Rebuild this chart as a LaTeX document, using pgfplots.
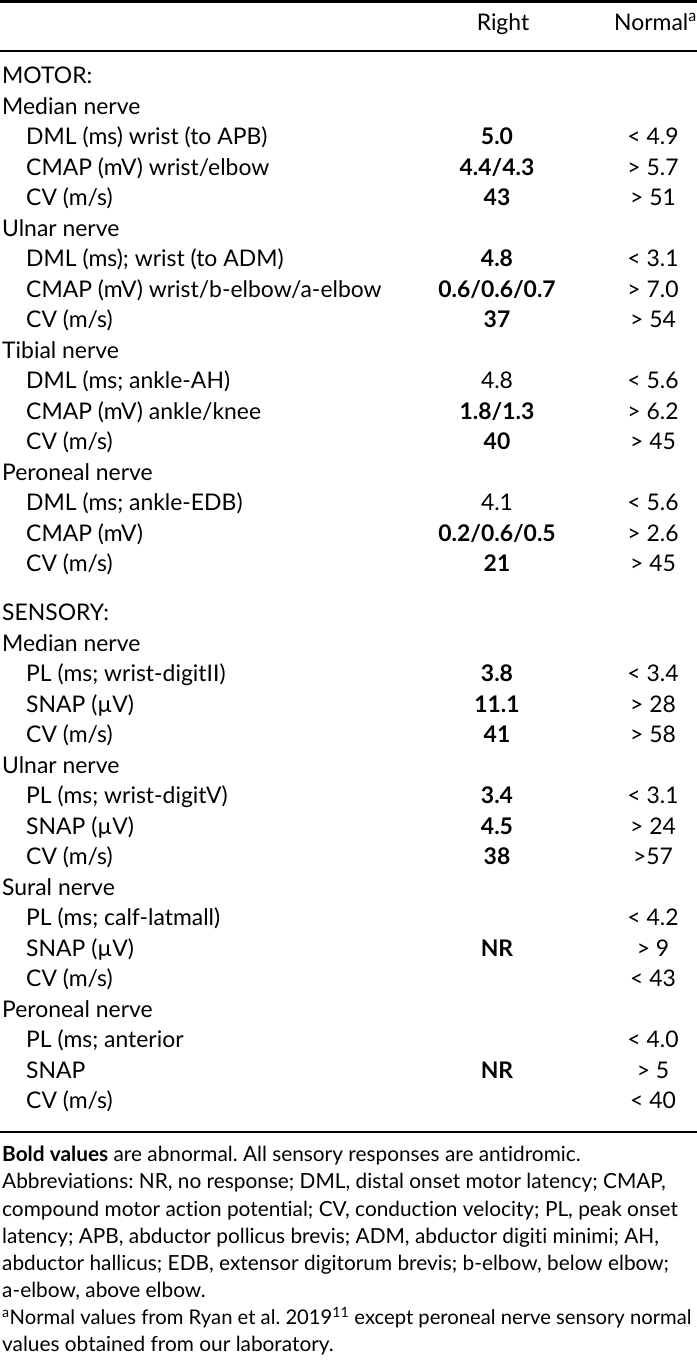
\documentclass[border=0pt]{standalone}
\usepackage{fontspec}
\setmainfont{Lato}[Ligatures={NoCommon,NoRare}]
\usepackage{pgfplots}
\usepackage{pgfplotstable}
\pgfplotsset{compat=1.18}
\frenchspacing

\newcommand\tabfont{\fontsize{23}{28}\selectfont}
\newcommand\notefont{\fontsize{20.9}{25}\selectfont}
% a semicolon that pgfplots' point lists do not see
\protected\def\sm{;}

% y = row centre (px from top), x = left edge of the label
% rb = bold value, rn = plain value, nv = normal range
\pgfplotstableread[col sep=comma]{
y,x,label,rb,rn,nv
80,2,MOTOR:,,,
110.5,2,Median nerve,,,
141,26,DML (ms) wrist (to APB),5.0,,< 4.9
171.5,26,CMAP (mV) wrist/elbow,4.4/4.3,,> 5.7
202,26,CV (m/s),43,,> 51
232.5,2,Ulnar nerve,,,
263,26,DML (ms)\sm{} wrist (to ADM),4.8,,< 3.1
293.5,26,CMAP (mV) wrist/b-elbow/a-elbow,0.6/0.6/0.7,,> 7.0
324,26,CV (m/s),37,,> 54
354.5,2,Tibial nerve,,,
385,26,DML (ms\sm{} ankle-AH),,4.8,< 5.6
415.5,26,CMAP (mV) ankle/knee,1.8/1.3,,> 6.2
446,26,CV (m/s),40,,> 45
476.5,2,Peroneal nerve,,,
507,26,DML (ms\sm{} ankle-EDB),,4.1,< 5.6
537.5,26,CMAP (mV),0.2/0.6/0.5,,> 2.6
568,26,CV (m/s),21,,> 45
617,2,SENSORY:,,,
647.5,2,Median nerve,,,
678,26,PL (ms\sm{} wrist-digitII),3.8,,< 3.4
708.5,26,SNAP (µV),11.1,,> 28
739,26,CV (m/s),41,,> 58
769.5,2,Ulnar nerve,,,
800,26,PL (ms\sm{} wrist-digitV),3.4,,< 3.1
830.5,26,SNAP (µV),4.5,,> 24
861,26,CV (m/s),38,,>57
891.5,2,Sural nerve,,,
922,26,PL (ms\sm{} calf-latmall),,,< 4.2
952.5,26,SNAP (µV),NR,,> 9
983,26,CV (m/s),,,< 43
1013.5,2,Peroneal nerve,,,
1044,26,PL (ms\sm{} anterior,,,< 4.0
1074.5,26,SNAP,NR,,> 5
1105,26,CV (m/s),,,< 40
}\rows

\begin{document}
\begin{tikzpicture}
\begin{axis}[name=ax,
  width=697bp, height=1361bp, scale only axis,
  xmin=0, xmax=697, ymin=0, ymax=1361, y dir=reverse,
  hide axis, clip=false,
  every node near coord/.append style={inner sep=0pt, yshift=-0.36em, font=\tabfont},
]
% rules
\addplot[black, line width=2.6bp] coordinates {(0,1.5) (697,1.5)};
\addplot[black, line width=1.6bp] coordinates {(0,51) (697,51)};
\addplot[black, line width=2bp] coordinates {(0,1132) (697,1132)};

% row labels
\addplot[draw=none, nodes near coords, point meta=explicit symbolic,
  nodes near coords align={center},
  every node near coord/.append style={anchor=base west}]
  table[x=x, y=y, meta=label] {\rows};
% Right column
\addplot[draw=none, nodes near coords, point meta=explicit symbolic,
  nodes near coords align={center},
  every node near coord/.append style={anchor=base, font=\tabfont\bfseries}]
  table[x expr=497, y=y, meta=rb] {\rows};
\addplot[draw=none, nodes near coords, point meta=explicit symbolic,
  nodes near coords align={center},
  every node near coord/.append style={anchor=base}]
  table[x expr=497, y=y, meta=rn] {\rows};
% Normal column
\addplot[draw=none, nodes near coords, point meta=explicit symbolic,
  nodes near coords align={center},
  every node near coord/.append style={anchor=base}]
  table[x expr=653, y=y, meta=nv] {\rows};

% header
\node[anchor=base, inner sep=0pt, font=\tabfont, yshift=-0.36em] at (axis cs:503,27) {Right};
\node[anchor=base east, inner sep=0pt, font=\tabfont, yshift=-0.36em] at (axis cs:697,27) {Normal\textsuperscript{a}};

% notes
\begin{scope}[every node/.style={anchor=base west, inner sep=0pt, font=\notefont, yshift=-0.36em}]
\node at (axis cs:2,1158) {\textbf{Bold values} are abnormal. All sensory responses are antidromic.};
\node at (axis cs:2,1185) {Abbreviations: NR, no response; DML, distal onset motor latency; CMAP,};
\node at (axis cs:2,1212.5) {compound motor action potential; CV, conduction velocity; PL, peak onset};
\node at (axis cs:2,1239.5) {latency; APB, abductor pollicus brevis; ADM, abductor digiti minimi; AH,};
\node at (axis cs:2,1267) {abductor hallicus; EDB, extensor digitorum brevis; b-elbow, below elbow;};
\node at (axis cs:2,1294) {a-elbow, above elbow.};
\node[font=\fontsize{20.3}{24}\selectfont] at (axis cs:2,1321) {\textsuperscript{a}Normal values from Ryan et al.\ 2019\textsuperscript{11} except peroneal nerve sensory normal};
\node at (axis cs:2,1348) {values obtained from our laboratory.};
\end{scope}
\end{axis}
\pgfresetboundingbox
\path (ax.south west) rectangle (ax.north east);
\end{tikzpicture}
\end{document}
